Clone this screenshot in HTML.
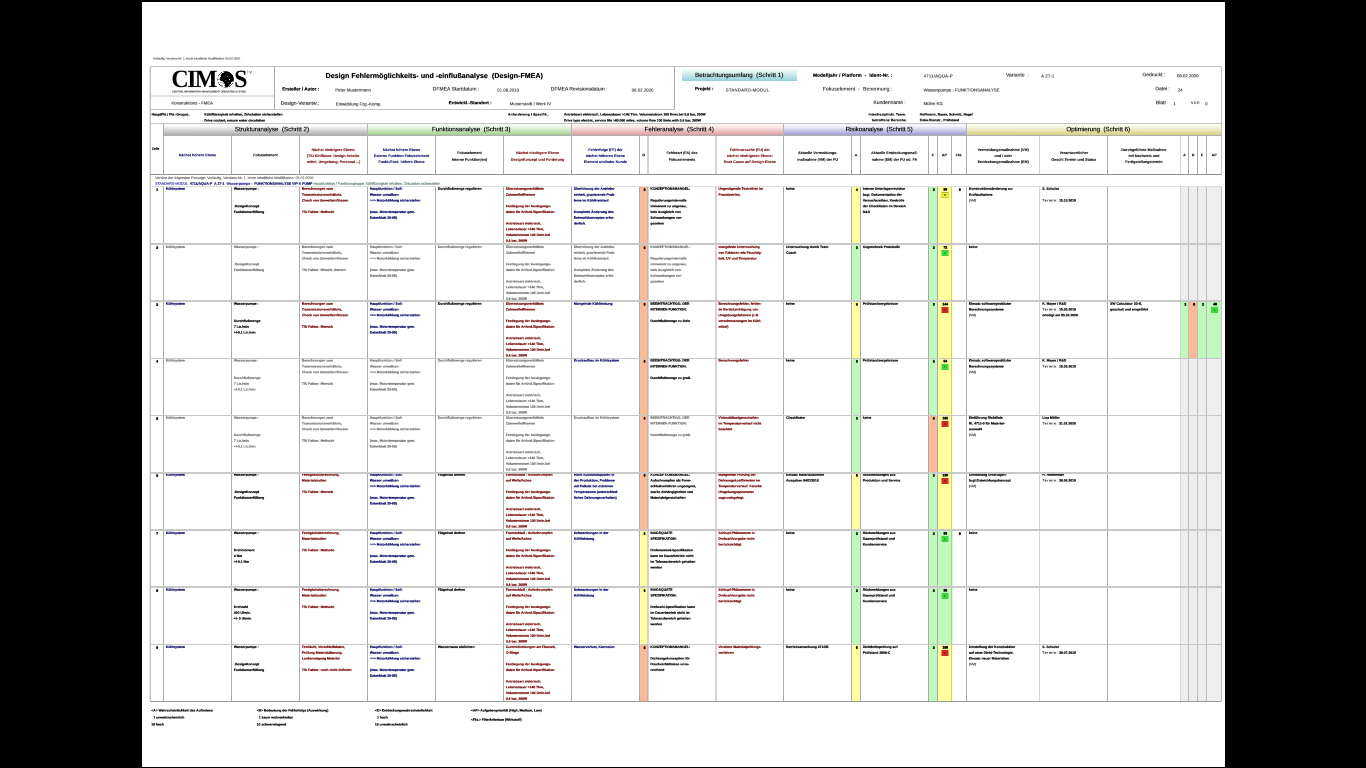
<!DOCTYPE html>
<html lang="de"><head><meta charset="utf-8"><title>Design-FMEA</title>
<style>
html,body{margin:0;padding:0;}
body{width:1366px;height:768px;background:#000;overflow:hidden;position:relative;font-family:"Liberation Sans",sans-serif;}
#page{position:absolute;left:142px;top:2px;width:1083px;height:765px;background:#fff;}
#c{position:absolute;left:0;top:0;width:5464px;height:3072px;transform:scale(0.25);transform-origin:0 0;will-change:transform;}
#c div{position:absolute;}
.t{white-space:nowrap;text-rendering:geometricPrecision;filter:blur(0.9px);text-shadow:0.3px 0 currentColor,-0.3px 0 currentColor;}
.b{font-weight:bold;text-shadow:0.35px 0 currentColor,-0.35px 0 currentColor,0 0.3px currentColor,0 -0.3px currentColor;}
.logo{font-family:"Liberation Serif",serif;font-weight:bold;color:#000;transform:scale(1,1.04);transform-origin:0 76.5%;text-shadow:none;}
</style></head>
<body>
<div id="page"></div>
<div id="c">
<div style="left:2557.20px;top:746.00px;width:34.80px;height:230.00px;background:#fbba98"></div>
<div style="left:3406.40px;top:746.00px;width:35.20px;height:230.00px;background:#ffffa0"></div>
<div style="left:3714.00px;top:746.00px;width:35.20px;height:230.00px;background:#bffabc"></div>
<div style="left:3749.20px;top:746.00px;width:56.40px;height:230.00px;background:#ffffa0"></div>
<div style="left:3805.60px;top:746.00px;width:10.40px;height:230.00px;background:linear-gradient(to right,#ffffa0,rgba(255,255,255,0))"></div>
<div style="left:4720.40px;top:746.00px;width:34.80px;height:230.00px;background:#eeeeee"></div>
<div style="left:4755.20px;top:746.00px;width:35.20px;height:230.00px;background:#eeeeee"></div>
<div style="left:4790.40px;top:746.00px;width:36.40px;height:230.00px;background:#eeeeee"></div>
<div style="left:4826.80px;top:746.00px;width:59.60px;height:230.00px;background:#eeeeee"></div>
<div style="left:2557.20px;top:976.00px;width:34.80px;height:228.00px;background:#fbba98"></div>
<div style="left:3406.40px;top:976.00px;width:35.20px;height:228.00px;background:#bffabc"></div>
<div style="left:3714.00px;top:976.00px;width:35.20px;height:228.00px;background:#bffabc"></div>
<div style="left:3749.20px;top:976.00px;width:56.40px;height:228.00px;background:#ffffa0"></div>
<div style="left:3805.60px;top:976.00px;width:10.40px;height:228.00px;background:linear-gradient(to right,#ffffa0,rgba(255,255,255,0))"></div>
<div style="left:4720.40px;top:976.00px;width:34.80px;height:228.00px;background:#eeeeee"></div>
<div style="left:4755.20px;top:976.00px;width:35.20px;height:228.00px;background:#eeeeee"></div>
<div style="left:4790.40px;top:976.00px;width:36.40px;height:228.00px;background:#eeeeee"></div>
<div style="left:4826.80px;top:976.00px;width:59.60px;height:228.00px;background:#eeeeee"></div>
<div style="left:2557.20px;top:1204.00px;width:34.80px;height:230.00px;background:#fbba98"></div>
<div style="left:3406.40px;top:1204.00px;width:35.20px;height:230.00px;background:#ffffa0"></div>
<div style="left:3714.00px;top:1204.00px;width:35.20px;height:230.00px;background:#bffabc"></div>
<div style="left:3749.20px;top:1204.00px;width:56.40px;height:230.00px;background:#ffffa0"></div>
<div style="left:3805.60px;top:1204.00px;width:10.40px;height:230.00px;background:linear-gradient(to right,#ffffa0,rgba(255,255,255,0))"></div>
<div style="left:4720.40px;top:1204.00px;width:34.80px;height:230.00px;background:#bffabc"></div>
<div style="left:4755.20px;top:1204.00px;width:35.20px;height:230.00px;background:#fbba98"></div>
<div style="left:4790.40px;top:1204.00px;width:36.40px;height:230.00px;background:#bffabc"></div>
<div style="left:4826.80px;top:1204.00px;width:59.60px;height:230.00px;background:#bffabc"></div>
<div style="left:2557.20px;top:1434.00px;width:34.80px;height:228.00px;background:#fbba98"></div>
<div style="left:3406.40px;top:1434.00px;width:35.20px;height:228.00px;background:#bffabc"></div>
<div style="left:3714.00px;top:1434.00px;width:35.20px;height:228.00px;background:#bffabc"></div>
<div style="left:3749.20px;top:1434.00px;width:56.40px;height:228.00px;background:#ffffa0"></div>
<div style="left:3805.60px;top:1434.00px;width:10.40px;height:228.00px;background:linear-gradient(to right,#ffffa0,rgba(255,255,255,0))"></div>
<div style="left:4720.40px;top:1434.00px;width:34.80px;height:228.00px;background:#eeeeee"></div>
<div style="left:4755.20px;top:1434.00px;width:35.20px;height:228.00px;background:#eeeeee"></div>
<div style="left:4790.40px;top:1434.00px;width:36.40px;height:228.00px;background:#eeeeee"></div>
<div style="left:4826.80px;top:1434.00px;width:59.60px;height:228.00px;background:#eeeeee"></div>
<div style="left:2557.20px;top:1662.00px;width:34.80px;height:230.00px;background:#fbba98"></div>
<div style="left:3406.40px;top:1662.00px;width:35.20px;height:230.00px;background:#bffabc"></div>
<div style="left:3714.00px;top:1662.00px;width:35.20px;height:230.00px;background:#fbba98"></div>
<div style="left:3749.20px;top:1662.00px;width:56.40px;height:230.00px;background:#ffffa0"></div>
<div style="left:3805.60px;top:1662.00px;width:10.40px;height:230.00px;background:linear-gradient(to right,#ffffa0,rgba(255,255,255,0))"></div>
<div style="left:4720.40px;top:1662.00px;width:34.80px;height:230.00px;background:#eeeeee"></div>
<div style="left:4755.20px;top:1662.00px;width:35.20px;height:230.00px;background:#eeeeee"></div>
<div style="left:4790.40px;top:1662.00px;width:36.40px;height:230.00px;background:#eeeeee"></div>
<div style="left:4826.80px;top:1662.00px;width:59.60px;height:230.00px;background:#eeeeee"></div>
<div style="left:2557.20px;top:1892.00px;width:34.80px;height:228.00px;background:#fbba98"></div>
<div style="left:3406.40px;top:1892.00px;width:35.20px;height:228.00px;background:#ffffa0"></div>
<div style="left:3714.00px;top:1892.00px;width:35.20px;height:228.00px;background:#bffabc"></div>
<div style="left:3749.20px;top:1892.00px;width:56.40px;height:228.00px;background:#ffffa0"></div>
<div style="left:3805.60px;top:1892.00px;width:10.40px;height:228.00px;background:linear-gradient(to right,#ffffa0,rgba(255,255,255,0))"></div>
<div style="left:4720.40px;top:1892.00px;width:34.80px;height:228.00px;background:#eeeeee"></div>
<div style="left:4755.20px;top:1892.00px;width:35.20px;height:228.00px;background:#eeeeee"></div>
<div style="left:4790.40px;top:1892.00px;width:36.40px;height:228.00px;background:#eeeeee"></div>
<div style="left:4826.80px;top:1892.00px;width:59.60px;height:228.00px;background:#eeeeee"></div>
<div style="left:2557.20px;top:2120.00px;width:34.80px;height:228.00px;background:#ffffa0"></div>
<div style="left:3406.40px;top:2120.00px;width:35.20px;height:228.00px;background:#bffabc"></div>
<div style="left:3714.00px;top:2120.00px;width:35.20px;height:228.00px;background:#bffabc"></div>
<div style="left:3749.20px;top:2120.00px;width:56.40px;height:228.00px;background:#bffabc"></div>
<div style="left:3805.60px;top:2120.00px;width:10.40px;height:228.00px;background:linear-gradient(to right,#bffabc,rgba(255,255,255,0))"></div>
<div style="left:4720.40px;top:2120.00px;width:34.80px;height:228.00px;background:#eeeeee"></div>
<div style="left:4755.20px;top:2120.00px;width:35.20px;height:228.00px;background:#eeeeee"></div>
<div style="left:4790.40px;top:2120.00px;width:36.40px;height:228.00px;background:#eeeeee"></div>
<div style="left:4826.80px;top:2120.00px;width:59.60px;height:228.00px;background:#eeeeee"></div>
<div style="left:2557.20px;top:2348.00px;width:34.80px;height:230.00px;background:#ffffa0"></div>
<div style="left:3406.40px;top:2348.00px;width:35.20px;height:230.00px;background:#bffabc"></div>
<div style="left:3714.00px;top:2348.00px;width:35.20px;height:230.00px;background:#bffabc"></div>
<div style="left:3749.20px;top:2348.00px;width:56.40px;height:230.00px;background:#bffabc"></div>
<div style="left:3805.60px;top:2348.00px;width:10.40px;height:230.00px;background:linear-gradient(to right,#bffabc,rgba(255,255,255,0))"></div>
<div style="left:4720.40px;top:2348.00px;width:34.80px;height:230.00px;background:#eeeeee"></div>
<div style="left:4755.20px;top:2348.00px;width:35.20px;height:230.00px;background:#eeeeee"></div>
<div style="left:4790.40px;top:2348.00px;width:36.40px;height:230.00px;background:#eeeeee"></div>
<div style="left:4826.80px;top:2348.00px;width:59.60px;height:230.00px;background:#eeeeee"></div>
<div style="left:2557.20px;top:2578.00px;width:34.80px;height:228.00px;background:#fbba98"></div>
<div style="left:3406.40px;top:2578.00px;width:35.20px;height:228.00px;background:#ffffa0"></div>
<div style="left:3714.00px;top:2578.00px;width:35.20px;height:228.00px;background:#bffabc"></div>
<div style="left:3749.20px;top:2578.00px;width:56.40px;height:228.00px;background:#ffffa0"></div>
<div style="left:3805.60px;top:2578.00px;width:10.40px;height:228.00px;background:linear-gradient(to right,#ffffa0,rgba(255,255,255,0))"></div>
<div style="left:4720.40px;top:2578.00px;width:34.80px;height:228.00px;background:#eeeeee"></div>
<div style="left:4755.20px;top:2578.00px;width:35.20px;height:228.00px;background:#eeeeee"></div>
<div style="left:4790.40px;top:2578.00px;width:36.40px;height:228.00px;background:#eeeeee"></div>
<div style="left:4826.80px;top:2578.00px;width:59.60px;height:228.00px;background:#eeeeee"></div>
<div style="left:654.00px;top:495.60px;width:816.00px;height:46.40px;background:linear-gradient(to bottom,#fbfbfb 0%,#fbfbfb 18%,#a9a9a9 100%)"></div>
<div class="t " style="top:502.15px;font-size:25.08px;line-height:30.10px;color:#000;left:680.00px;width:816.00px;text-align:center;letter-spacing:-0.003px;text-shadow:0.25px 0 currentColor,-0.25px 0 currentColor;">Strukturanalyse&nbsp; (Schritt 2)</div>
<div style="left:1470.00px;top:495.60px;width:816.00px;height:46.40px;background:linear-gradient(to bottom,#f6fbf3 0%,#f6fbf3 18%,#9ccc8c 100%)"></div>
<div class="t " style="top:502.15px;font-size:25.08px;line-height:30.10px;color:#000;left:1476.80px;width:816.00px;text-align:center;letter-spacing:-0.131px;text-shadow:0.25px 0 currentColor,-0.25px 0 currentColor;">Funktionsanalyse&nbsp; (Schritt 3)</div>
<div style="left:2286.00px;top:495.60px;width:848.80px;height:46.40px;background:linear-gradient(to bottom,#fcf1f1 0%,#fcf1f1 18%,#dd9a9a 100%)"></div>
<div class="t " style="top:502.15px;font-size:25.08px;line-height:30.10px;color:#000;left:2292.40px;width:848.80px;text-align:center;letter-spacing:-0.130px;text-shadow:0.25px 0 currentColor,-0.25px 0 currentColor;">Fehleranalyse&nbsp; (Schritt 4)</div>
<div style="left:3134.80px;top:495.60px;width:731.20px;height:46.40px;background:linear-gradient(to bottom,#f5f5fd 0%,#f5f5fd 18%,#9a9ad2 100%)"></div>
<div class="t " style="top:502.15px;font-size:25.08px;line-height:30.10px;color:#000;left:3150.80px;width:731.20px;text-align:center;letter-spacing:-0.360px;text-shadow:0.25px 0 currentColor,-0.25px 0 currentColor;">Risikoanalyse&nbsp; (Schritt 5)</div>
<div style="left:3866.00px;top:495.60px;width:1020.40px;height:46.40px;background:linear-gradient(to bottom,#fbfbee 0%,#fbfbee 18%,#d6ce7c 100%)"></div>
<div class="t " style="top:502.15px;font-size:25.08px;line-height:30.10px;color:#000;left:3882.60px;width:1020.40px;text-align:center;letter-spacing:-0.185px;text-shadow:0.25px 0 currentColor,-0.25px 0 currentColor;">Optimierung&nbsp; (Schritt 6)</div>
<div style="left:600.80px;top:263.20px;width:4285.60px;height:4.80px;background:#c4c4c4"></div>
<div style="left:598.20px;top:265.60px;width:5.20px;height:2540.40px;background:#c4c4c4"></div>
<div style="left:4884.00px;top:265.60px;width:4.80px;height:432.00px;background:#c4c4c4"></div>
<div style="left:4884.00px;top:746.00px;width:4.80px;height:2060.00px;background:#c4c4c4"></div>
<div style="left:1096.20px;top:265.60px;width:3.60px;height:171.60px;background:#a9a9a9"></div>
<div style="left:2697.40px;top:265.60px;width:3.60px;height:171.60px;background:#a9a9a9"></div>
<div style="left:600.80px;top:382.00px;width:497.20px;height:4.00px;background:#c4c4c4"></div>
<div style="left:600.80px;top:435.00px;width:2098.40px;height:4.40px;background:#c4c4c4"></div>
<div style="left:600.80px;top:491.80px;width:4285.60px;height:4.40px;background:#c4c4c4"></div>
<div style="left:654.00px;top:539.80px;width:4232.40px;height:2.80px;background:#b0b0b0"></div>
<div style="left:600.80px;top:695.80px;width:4285.60px;height:3.60px;background:#8e8e8e"></div>
<div style="left:652.20px;top:494.00px;width:3.60px;height:203.60px;background:#a9a9a9"></div>
<div style="left:924.20px;top:541.20px;width:3.60px;height:156.40px;background:#a9a9a9"></div>
<div style="left:1196.20px;top:541.20px;width:3.60px;height:156.40px;background:#a9a9a9"></div>
<div style="left:1468.20px;top:541.20px;width:3.60px;height:156.40px;background:#a9a9a9"></div>
<div style="left:1740.20px;top:541.20px;width:3.60px;height:156.40px;background:#a9a9a9"></div>
<div style="left:2012.20px;top:541.20px;width:3.60px;height:156.40px;background:#a9a9a9"></div>
<div style="left:2284.20px;top:541.20px;width:3.60px;height:156.40px;background:#a9a9a9"></div>
<div style="left:2555.40px;top:541.20px;width:3.60px;height:156.40px;background:#a9a9a9"></div>
<div style="left:2590.20px;top:541.20px;width:3.60px;height:156.40px;background:#a9a9a9"></div>
<div style="left:2862.20px;top:541.20px;width:3.60px;height:156.40px;background:#a9a9a9"></div>
<div style="left:3133.00px;top:541.20px;width:3.60px;height:156.40px;background:#a9a9a9"></div>
<div style="left:3404.60px;top:541.20px;width:3.60px;height:156.40px;background:#a9a9a9"></div>
<div style="left:3439.80px;top:541.20px;width:3.60px;height:156.40px;background:#a9a9a9"></div>
<div style="left:3712.20px;top:541.20px;width:3.60px;height:156.40px;background:#a9a9a9"></div>
<div style="left:3747.40px;top:541.20px;width:3.60px;height:156.40px;background:#a9a9a9"></div>
<div style="left:3803.80px;top:541.20px;width:3.60px;height:156.40px;background:#a9a9a9"></div>
<div style="left:3864.20px;top:541.20px;width:3.60px;height:156.40px;background:#a9a9a9"></div>
<div style="left:4157.80px;top:541.20px;width:3.60px;height:156.40px;background:#a9a9a9"></div>
<div style="left:4429.00px;top:541.20px;width:3.60px;height:156.40px;background:#a9a9a9"></div>
<div style="left:4718.60px;top:541.20px;width:3.60px;height:156.40px;background:#a9a9a9"></div>
<div style="left:4753.40px;top:541.20px;width:3.60px;height:156.40px;background:#a9a9a9"></div>
<div style="left:4788.60px;top:541.20px;width:3.60px;height:156.40px;background:#a9a9a9"></div>
<div style="left:4825.00px;top:541.20px;width:3.60px;height:156.40px;background:#a9a9a9"></div>
<div style="left:652.20px;top:746.00px;width:3.60px;height:2060.00px;background:#a9a9a9"></div>
<div style="left:924.20px;top:746.00px;width:3.60px;height:2060.00px;background:#a9a9a9"></div>
<div style="left:1196.20px;top:746.00px;width:3.60px;height:2060.00px;background:#a9a9a9"></div>
<div style="left:1468.20px;top:746.00px;width:3.60px;height:2060.00px;background:#a9a9a9"></div>
<div style="left:1740.20px;top:746.00px;width:3.60px;height:2060.00px;background:#a9a9a9"></div>
<div style="left:2012.20px;top:746.00px;width:3.60px;height:2060.00px;background:#a9a9a9"></div>
<div style="left:2284.20px;top:746.00px;width:3.60px;height:2060.00px;background:#a9a9a9"></div>
<div style="left:2555.40px;top:746.00px;width:3.60px;height:2060.00px;background:#a9a9a9"></div>
<div style="left:2590.20px;top:746.00px;width:3.60px;height:2060.00px;background:#a9a9a9"></div>
<div style="left:2862.20px;top:746.00px;width:3.60px;height:2060.00px;background:#a9a9a9"></div>
<div style="left:3133.00px;top:746.00px;width:3.60px;height:2060.00px;background:#a9a9a9"></div>
<div style="left:3404.60px;top:746.00px;width:3.60px;height:2060.00px;background:#a9a9a9"></div>
<div style="left:3439.80px;top:746.00px;width:3.60px;height:2060.00px;background:#a9a9a9"></div>
<div style="left:3712.20px;top:746.00px;width:3.60px;height:2060.00px;background:#a9a9a9"></div>
<div style="left:3747.40px;top:746.00px;width:3.60px;height:2060.00px;background:#a9a9a9"></div>
<div style="left:3803.80px;top:746.00px;width:3.60px;height:2060.00px;background:rgba(150,150,60,0.45)"></div>
<div style="left:3864.20px;top:746.00px;width:3.60px;height:2060.00px;background:#a9a9a9"></div>
<div style="left:4157.80px;top:746.00px;width:3.60px;height:2060.00px;background:#a9a9a9"></div>
<div style="left:4429.00px;top:746.00px;width:3.60px;height:2060.00px;background:#a9a9a9"></div>
<div style="left:4718.60px;top:746.00px;width:3.60px;height:2060.00px;background:#bdbdbd"></div>
<div style="left:4753.40px;top:746.00px;width:3.60px;height:2060.00px;background:#bdbdbd"></div>
<div style="left:4788.60px;top:746.00px;width:3.60px;height:2060.00px;background:#bdbdbd"></div>
<div style="left:4825.00px;top:746.00px;width:3.60px;height:2060.00px;background:#bdbdbd"></div>
<div style="left:1468.60px;top:494.00px;width:2.80px;height:47.20px;background:#b4b4b4"></div>
<div style="left:2284.60px;top:494.00px;width:2.80px;height:47.20px;background:#b4b4b4"></div>
<div style="left:3133.40px;top:494.00px;width:2.80px;height:47.20px;background:#b4b4b4"></div>
<div style="left:3864.60px;top:494.00px;width:2.80px;height:47.20px;background:#b4b4b4"></div>
<div style="left:600.80px;top:744.00px;width:4285.60px;height:4.00px;background:#dedede"></div>
<div style="left:600.80px;top:2803.80px;width:4285.60px;height:4.40px;background:#9a9a9a"></div>
<div class="t " style="top:227.32px;font-size:11.80px;line-height:14.16px;color:#585858;left:612.00px;letter-spacing:-0.002px;">Vorläufig, Versions-Nr. 1, letzte inhaltliche Modifikation: 05.02.2020</div>
<div class="t logo" style="left:685.60px;top:256.00px;font-size:95.60px;line-height:120.00px;letter-spacing:-6.20px">CIM</div>
<div class="t logo" style="left:936.80px;top:256.00px;font-size:95.60px;line-height:120.00px;">S</div>
<svg style="position:absolute;left:868.80px;top:283.60px" width="67.2" height="67.2" viewBox="0 0 100 100">
<circle cx="50" cy="50" r="47.5" fill="#fff" stroke="#222" stroke-width="2.4"/>
<path d="M50 3 Q14 50 50 97 M50 3 Q30 50 50 97 M8 30 H60 M3 50 H50 M8 70 H60 M22 12 Q50 22 78 12 M20 88 Q50 78 80 88" fill="none" stroke="#555" stroke-width="1.6"/>
<path d="M36 10 L52 4 L72 8 L86 18 L94 32 L97 50 L92 62 L84 66 L80 76 L72 82 L64 94 L54 98 L46 90 L43 72 L32 62 L20 58 L15 44 L22 32 L18 24 L28 16 Z" fill="#000"/>
<path d="M56 30 L62 33 L58 37 Z M70 46 L76 50 L71 54 Z M50 52 L54 56 L50 60 Z M64 64 l4 3 l-4 3 Z" fill="#fff"/>
</svg>
<div class="t " style="top:280.64px;font-size:15.60px;line-height:18.72px;color:#555;left:989.20px;letter-spacing:3.830px;">IV</div>
<div class="t  b" style="top:361.12px;font-size:10.80px;line-height:12.96px;color:#2a2a2a;left:688.00px;letter-spacing:-0.664px;text-shadow:none;">CENTRAL INFORMATION MANAGEMENT OPERATING SYSTEM</div>
<div class="t " style="top:403.00px;font-size:17.00px;line-height:20.40px;color:#4c4c4c;left:685.60px;letter-spacing:0.054px;text-shadow:0.4px 0 currentColor,-0.4px 0 currentColor,0 0.4px currentColor,0 -0.4px currentColor;">Konstruktions - FMEA</div>
<div class="t  b" style="top:285.60px;font-size:28.00px;line-height:33.60px;color:#000;left:1302.40px;letter-spacing:0.279px;">Design Fehlermöglichkeits- und -einflußanalyse&nbsp; (Design-FMEA)</div>
<div class="t  b" style="top:345.88px;font-size:18.20px;line-height:21.84px;color:#000;right:4187.20px;text-align:right;letter-spacing:0.054px;margin-right:-0.054px;">Ersteller / Autor :</div>
<div class="t " style="top:351.00px;font-size:17.00px;line-height:20.40px;color:#4c4c4c;left:1340.80px;letter-spacing:0.210px;text-shadow:0.4px 0 currentColor,-0.4px 0 currentColor,0 0.4px currentColor,0 -0.4px currentColor;">Peter Mustermann</div>
<div class="t " style="top:400.80px;font-size:20.00px;line-height:24.00px;color:#2c2c2c;right:4187.20px;text-align:right;letter-spacing:0.175px;margin-right:-0.175px;">Design-Verantw.:</div>
<div class="t " style="top:407.00px;font-size:17.00px;line-height:20.40px;color:#4c4c4c;left:1343.20px;letter-spacing:-0.040px;text-shadow:0.4px 0 currentColor,-0.4px 0 currentColor,0 0.4px currentColor,0 -0.4px currentColor;">Entwicklung Fzg.-Komp.</div>
<div class="t " style="top:344.00px;font-size:20.00px;line-height:24.00px;color:#2c2c2c;left:1730.80px;letter-spacing:0.189px;">DFMEA Startdatum :</div>
<div class="t " style="top:351.00px;font-size:17.00px;line-height:20.40px;color:#4c4c4c;left:1989.20px;letter-spacing:0.172px;text-shadow:0.4px 0 currentColor,-0.4px 0 currentColor,0 0.4px currentColor,0 -0.4px currentColor;">01.08.2019</div>
<div class="t " style="top:344.00px;font-size:20.00px;line-height:24.00px;color:#2c2c2c;left:2203.20px;letter-spacing:-0.048px;">DFMEA Revisionsdatum :</div>
<div class="t " style="top:351.00px;font-size:17.00px;line-height:20.40px;color:#4c4c4c;left:2526.80px;letter-spacing:0.212px;text-shadow:0.4px 0 currentColor,-0.4px 0 currentColor,0 0.4px currentColor,0 -0.4px currentColor;">06.02.2020</div>
<div class="t  b" style="top:400.68px;font-size:18.20px;line-height:21.84px;color:#000;left:1794.80px;letter-spacing:0.056px;">Entwickl.-Standort :</div>
<div class="t " style="top:406.20px;font-size:17.00px;line-height:20.40px;color:#4c4c4c;left:2039.20px;letter-spacing:0.118px;text-shadow:0.4px 0 currentColor,-0.4px 0 currentColor,0 0.4px currentColor,0 -0.4px currentColor;">Musterstadt / Werk IV</div>
<div style="left:2729.20px;top:276.80px;width:457.60px;height:47.60px;background:linear-gradient(to bottom,#f4fbfb 0%,#cdebed 45%,#8fd3d8 100%)"></div>
<div class="t " style="top:286.32px;font-size:24.80px;line-height:29.76px;color:#000;left:2696.80px;width:520.00px;text-align:center;letter-spacing:0.099px;">Betrachtungsumfang&nbsp; (Schritt 1)</div>
<div class="t  b" style="top:345.08px;font-size:18.20px;line-height:21.84px;color:#000;left:2780.00px;letter-spacing:0.131px;">Projekt :</div>
<div class="t " style="top:350.48px;font-size:17.20px;line-height:20.64px;color:#4c4c4c;left:2902.80px;letter-spacing:0.973px;text-shadow:0.4px 0 currentColor,-0.4px 0 currentColor,0 0.4px currentColor,0 -0.4px currentColor;">STANDARD-MODUL</div>
<div class="t  b" style="top:290.16px;font-size:18.40px;line-height:22.08px;color:#000;right:1894.40px;text-align:right;letter-spacing:0.637px;margin-right:-0.637px;">Modelljahr / Platform&nbsp; -&nbsp; Ident-Nr. :</div>
<div class="t " style="top:344.00px;font-size:20.00px;line-height:24.00px;color:#2c2c2c;right:1894.40px;text-align:right;letter-spacing:0.388px;margin-right:-0.388px;">Fokuselement&nbsp; -&nbsp; Benennung :</div>
<div class="t " style="top:398.00px;font-size:20.00px;line-height:24.00px;color:#2c2c2c;right:1841.20px;text-align:right;letter-spacing:-0.108px;margin-right:0.108px;">Kundenname :</div>
<div class="t " style="top:294.08px;font-size:17.20px;line-height:20.64px;color:#4c4c4c;left:3694.40px;letter-spacing:0.863px;text-shadow:0.4px 0 currentColor,-0.4px 0 currentColor,0 0.4px currentColor,0 -0.4px currentColor;">4711/AQUA-P</div>
<div class="t " style="top:350.48px;font-size:17.20px;line-height:20.64px;color:#4c4c4c;left:3694.40px;letter-spacing:0.079px;text-shadow:0.4px 0 currentColor,-0.4px 0 currentColor,0 0.4px currentColor,0 -0.4px currentColor;">Wasserpumpe : FUNKTIONSANALYSE</div>
<div class="t " style="top:403.68px;font-size:17.20px;line-height:20.64px;color:#4c4c4c;left:3694.40px;letter-spacing:0.038px;text-shadow:0.4px 0 currentColor,-0.4px 0 currentColor,0 0.4px currentColor,0 -0.4px currentColor;">Müller KG</div>
<div class="t " style="top:288.00px;font-size:20.00px;line-height:24.00px;color:#2c2c2c;left:4024.00px;letter-spacing:0.211px;">Variante&nbsp; :</div>
<div class="t " style="top:294.08px;font-size:17.20px;line-height:20.64px;color:#4c4c4c;left:4164.80px;letter-spacing:0.579px;text-shadow:0.4px 0 currentColor,-0.4px 0 currentColor,0 0.4px currentColor,0 -0.4px currentColor;">A 27-1</div>
<div class="t " style="top:287.20px;font-size:20.00px;line-height:24.00px;color:#2c2c2c;right:802.80px;text-align:right;letter-spacing:-0.066px;margin-right:0.066px;">Gedruckt :</div>
<div class="t " style="top:293.28px;font-size:17.20px;line-height:20.64px;color:#4c4c4c;left:4708.00px;letter-spacing:0.032px;text-shadow:0.4px 0 currentColor,-0.4px 0 currentColor,0 0.4px currentColor,0 -0.4px currentColor;">06.02.2020</div>
<div class="t " style="top:343.20px;font-size:20.00px;line-height:24.00px;color:#2c2c2c;right:784.00px;text-align:right;letter-spacing:0.142px;margin-right:-0.142px;">Datei :</div>
<div class="t " style="top:350.08px;font-size:17.20px;line-height:20.64px;color:#4c4c4c;left:4710.80px;text-shadow:0.4px 0 currentColor,-0.4px 0 currentColor,0 0.4px currentColor,0 -0.4px currentColor;">24</div>
<div class="t " style="top:399.20px;font-size:20.00px;line-height:24.00px;color:#2c2c2c;left:4624.00px;letter-spacing:-0.164px;">Blatt</div>
<div class="t " style="top:404.88px;font-size:17.20px;line-height:20.64px;color:#4c4c4c;left:4693.60px;text-shadow:0.4px 0 currentColor,-0.4px 0 currentColor,0 0.4px currentColor,0 -0.4px currentColor;">1</div>
<div class="t " style="top:399.12px;font-size:18.80px;line-height:22.56px;color:#444;left:4764.00px;letter-spacing:1.896px;">von</div>
<div class="t " style="top:404.88px;font-size:17.20px;line-height:20.64px;color:#4c4c4c;left:4820.80px;text-shadow:0.4px 0 currentColor,-0.4px 0 currentColor,0 0.4px currentColor,0 -0.4px currentColor;">0</div>
<div class="t  b" style="top:450.36px;font-size:13.40px;line-height:16.08px;color:#000;left:606.40px;letter-spacing:0.108px;">HauptFkt./ Fkt.-Gruppe..</div>
<div class="t  b" style="top:450.36px;font-size:13.40px;line-height:16.08px;color:#000;left:817.20px;letter-spacing:-0.006px;">Kühlflüssigkeit erhalten, Zirkulation sicherstellen</div>
<div class="t  b" style="top:473.96px;font-size:13.40px;line-height:16.08px;color:#000;left:817.20px;letter-spacing:-0.095px;">Drive coolant, ensure water circulation</div>
<div class="t  b" style="top:449.96px;font-size:13.40px;line-height:16.08px;color:#000;left:2032.00px;letter-spacing:0.567px;">Anforderung / Spezifik..</div>
<div class="t  b" style="top:449.96px;font-size:13.40px;line-height:16.08px;color:#000;left:2256.00px;">Antriebsart elektrisch, Lebensdauer >140 Tkm, Volumenstrom 100 l/min.bei 0,6 bar, 200W</div>
<div class="t  b" style="top:473.56px;font-size:13.40px;line-height:16.08px;color:#000;left:2256.00px;">Drive type electric, service life >80.000 miles, volume flow 100 l/min.with 0,6 bar, 200W</div>
<div class="t  b" style="top:449.96px;font-size:13.40px;line-height:16.08px;color:#000;right:1840.80px;text-align:right;letter-spacing:0.428px;margin-right:-0.428px;">Interdisziplinär. Team.</div>
<div class="t  b" style="top:473.16px;font-size:13.40px;line-height:16.08px;color:#000;right:1836.40px;text-align:right;letter-spacing:0.521px;margin-right:-0.521px;">betroffene Bereiche.</div>
<div class="t  b" style="top:449.96px;font-size:13.40px;line-height:16.08px;color:#000;left:3679.20px;letter-spacing:0.138px;">Hoffmann, Bauer, Schmitt, Nagel</div>
<div class="t  b" style="top:472.76px;font-size:13.40px;line-height:16.08px;color:#000;left:3679.20px;letter-spacing:0.104px;">Entw./Konstr., Prüfstand</div>
<div class="t  b" style="top:587.28px;font-size:13.20px;line-height:15.84px;color:#000;left:594.40px;width:56.00px;text-align:center;">Zeile</div>
<div class="t  b" style="top:613.24px;font-size:14.60px;line-height:17.52px;color:#000066;left:634.00px;width:312.00px;text-align:center;text-shadow:0.15px 0 currentColor;">Nächst höhere Ebene</div>
<div class="t  b" style="top:613.24px;font-size:14.60px;line-height:17.52px;color:#000;left:906.00px;width:312.00px;text-align:center;text-shadow:0.15px 0 currentColor;">Fokuselement</div>
<div class="t  b" style="top:592.04px;font-size:14.60px;line-height:17.52px;color:#720000;left:1178.00px;width:312.00px;text-align:center;text-shadow:0.15px 0 currentColor;">Nächst niedrigere Ebene:</div>
<div class="t  b" style="top:616.04px;font-size:14.60px;line-height:17.52px;color:#720000;left:1178.00px;width:312.00px;text-align:center;text-shadow:0.15px 0 currentColor;">(T/U Einflüsse: Design Arbeits-</div>
<div class="t  b" style="top:640.04px;font-size:14.60px;line-height:17.52px;color:#720000;left:1178.00px;width:312.00px;text-align:center;text-shadow:0.15px 0 currentColor;">mittel, Umgebung, Personal ...)</div>
<div class="t  b" style="top:592.04px;font-size:14.60px;line-height:17.52px;color:#000066;left:1450.00px;width:312.00px;text-align:center;text-shadow:0.15px 0 currentColor;">Nächst höhere Ebene</div>
<div class="t  b" style="top:616.04px;font-size:14.60px;line-height:17.52px;color:#000066;left:1450.00px;width:312.00px;text-align:center;text-shadow:0.15px 0 currentColor;">Externe Funktion Fokuselement</div>
<div class="t  b" style="top:640.04px;font-size:14.60px;line-height:17.52px;color:#000066;left:1450.00px;width:312.00px;text-align:center;text-shadow:0.15px 0 currentColor;">Funkt./Ford. höhere Ebene</div>
<div class="t  b" style="top:603.64px;font-size:14.60px;line-height:17.52px;color:#000;left:1722.00px;width:312.00px;text-align:center;text-shadow:0.15px 0 currentColor;">Fokuselement</div>
<div class="t  b" style="top:630.84px;font-size:14.60px;line-height:17.52px;color:#000;left:1722.00px;width:312.00px;text-align:center;text-shadow:0.15px 0 currentColor;">Interne Funktion(en)</div>
<div class="t  b" style="top:603.64px;font-size:14.60px;line-height:17.52px;color:#720000;left:1994.00px;width:312.00px;text-align:center;text-shadow:0.15px 0 currentColor;">Nächst niedrigere Ebene</div>
<div class="t  b" style="top:630.84px;font-size:14.60px;line-height:17.52px;color:#720000;left:1994.00px;width:312.00px;text-align:center;text-shadow:0.15px 0 currentColor;">DesignKonzept und Forderung</div>
<div class="t  b" style="top:592.04px;font-size:14.60px;line-height:17.52px;color:#000066;left:2266.00px;width:311.20px;text-align:center;text-shadow:0.15px 0 currentColor;">Fehlerfolge (FF) der</div>
<div class="t  b" style="top:616.04px;font-size:14.60px;line-height:17.52px;color:#000066;left:2266.00px;width:311.20px;text-align:center;text-shadow:0.15px 0 currentColor;">nächst höheren Ebene</div>
<div class="t  b" style="top:640.04px;font-size:14.60px;line-height:17.52px;color:#000066;left:2266.00px;width:311.20px;text-align:center;text-shadow:0.15px 0 currentColor;">Element und/oder Kunde</div>
<div class="t  b" style="top:613.24px;font-size:14.60px;line-height:17.52px;color:#000;left:2537.20px;width:74.80px;text-align:center;text-shadow:0.15px 0 currentColor;">B</div>
<div class="t  b" style="top:603.64px;font-size:14.60px;line-height:17.52px;color:#000;left:2572.00px;width:312.00px;text-align:center;text-shadow:0.15px 0 currentColor;">Fehlerart (FA) des</div>
<div class="t  b" style="top:630.84px;font-size:14.60px;line-height:17.52px;color:#000;left:2572.00px;width:312.00px;text-align:center;text-shadow:0.15px 0 currentColor;">Fokuselements</div>
<div class="t  b" style="top:592.04px;font-size:14.60px;line-height:17.52px;color:#720000;left:2844.00px;width:310.80px;text-align:center;text-shadow:0.15px 0 currentColor;">Fehlerursache (FU) der</div>
<div class="t  b" style="top:616.04px;font-size:14.60px;line-height:17.52px;color:#720000;left:2844.00px;width:310.80px;text-align:center;text-shadow:0.15px 0 currentColor;">nächst niedrigeren Ebene:</div>
<div class="t  b" style="top:640.04px;font-size:14.60px;line-height:17.52px;color:#720000;left:2844.00px;width:310.80px;text-align:center;text-shadow:0.15px 0 currentColor;">Root Cause auf Design-Ebene</div>
<div class="t  b" style="top:603.64px;font-size:14.60px;line-height:17.52px;color:#000;left:3114.80px;width:311.60px;text-align:center;text-shadow:0.15px 0 currentColor;">Aktuelle Vermeidungs-</div>
<div class="t  b" style="top:630.84px;font-size:14.60px;line-height:17.52px;color:#000;left:3114.80px;width:311.60px;text-align:center;text-shadow:0.15px 0 currentColor;">maßnahme (VM) der FU</div>
<div class="t  b" style="top:613.24px;font-size:14.60px;line-height:17.52px;color:#000;left:3386.40px;width:75.20px;text-align:center;text-shadow:0.15px 0 currentColor;">A</div>
<div class="t  b" style="top:603.64px;font-size:14.60px;line-height:17.52px;color:#000;left:3421.60px;width:312.40px;text-align:center;text-shadow:0.15px 0 currentColor;">Aktuelle Entdeckungsmaß-</div>
<div class="t  b" style="top:630.84px;font-size:14.60px;line-height:17.52px;color:#000;left:3421.60px;width:312.40px;text-align:center;text-shadow:0.15px 0 currentColor;">nahme (EM) der FU od. FA</div>
<div class="t  b" style="top:613.24px;font-size:14.60px;line-height:17.52px;color:#000;left:3694.00px;width:75.20px;text-align:center;text-shadow:0.15px 0 currentColor;">E</div>
<div class="t  b" style="top:613.24px;font-size:14.60px;line-height:17.52px;color:#000;left:3729.20px;width:96.40px;text-align:center;text-shadow:0.15px 0 currentColor;">AP</div>
<div class="t  b" style="top:613.24px;font-size:14.60px;line-height:17.52px;color:#000;left:3785.60px;width:100.40px;text-align:center;text-shadow:0.15px 0 currentColor;">Fkt.</div>
<div class="t  b" style="top:592.04px;font-size:14.60px;line-height:17.52px;color:#000;left:3846.00px;width:333.60px;text-align:center;text-shadow:0.15px 0 currentColor;">Vermeidungsmaßnahme (VM)</div>
<div class="t  b" style="top:616.04px;font-size:14.60px;line-height:17.52px;color:#000;left:3846.00px;width:333.60px;text-align:center;text-shadow:0.15px 0 currentColor;">und / oder</div>
<div class="t  b" style="top:640.04px;font-size:14.60px;line-height:17.52px;color:#000;left:3846.00px;width:333.60px;text-align:center;text-shadow:0.15px 0 currentColor;">Entdeckungsmaßnahme (EM)</div>
<div class="t  b" style="top:603.64px;font-size:14.60px;line-height:17.52px;color:#000;left:4139.60px;width:311.20px;text-align:center;text-shadow:0.15px 0 currentColor;">Verantwortlicher</div>
<div class="t  b" style="top:630.84px;font-size:14.60px;line-height:17.52px;color:#000;left:4139.60px;width:311.20px;text-align:center;text-shadow:0.15px 0 currentColor;">Geschl.Termin und Status</div>
<div class="t  b" style="top:592.04px;font-size:14.60px;line-height:17.52px;color:#000;left:4410.80px;width:329.60px;text-align:center;text-shadow:0.15px 0 currentColor;">Durchgeführte Maßnahme</div>
<div class="t  b" style="top:616.04px;font-size:14.60px;line-height:17.52px;color:#000;left:4410.80px;width:329.60px;text-align:center;text-shadow:0.15px 0 currentColor;">mit Nachweis und</div>
<div class="t  b" style="top:640.04px;font-size:14.60px;line-height:17.52px;color:#000;left:4410.80px;width:329.60px;text-align:center;text-shadow:0.15px 0 currentColor;">Fertigstellungstermin</div>
<div class="t  b" style="top:613.24px;font-size:14.60px;line-height:17.52px;color:#000;left:4700.40px;width:74.80px;text-align:center;text-shadow:0.15px 0 currentColor;">A</div>
<div class="t  b" style="top:613.24px;font-size:14.60px;line-height:17.52px;color:#000;left:4735.20px;width:75.20px;text-align:center;text-shadow:0.15px 0 currentColor;">B</div>
<div class="t  b" style="top:613.24px;font-size:14.60px;line-height:17.52px;color:#000;left:4770.40px;width:76.40px;text-align:center;text-shadow:0.15px 0 currentColor;">E</div>
<div class="t  b" style="top:613.24px;font-size:14.60px;line-height:17.52px;color:#000;left:4806.80px;width:99.60px;text-align:center;text-shadow:0.15px 0 currentColor;">AP</div>
<div class="t " style="top:703.88px;font-size:14.20px;line-height:17.04px;color:#5c5c5c;left:620.80px;letter-spacing:0.083px;">Version der folgenden Passage: Vorläufig, Versions-Nr. 1, letzte inhaltliche Modifikation: 05.02.2020</div>
<div class="t" style="left:620.80px;top:725.60px;font-size:14.00px;line-height:17.60px;color:#000066"><span style="color:#2c2ca8">STANDARD-MODUL</span>&nbsp; <b>4711/AQUA-P&nbsp; A 27-1</b>&nbsp; <b style="color:#2a2aa0">Wasserpumpe :</b>&nbsp; <b>FUNKTIONSANALYSE VIP K PUMP</b><span style="color:#587868"> Hauptfunktion / Funktionsgruppe: Kühlflüssigkeit erhalten, Zirkulation sicherstellen</span></div>
<div class="t  b" style="top:751.16px;font-size:13.40px;line-height:16.08px;color:#000;left:602.00px;width:53.20px;text-align:center;text-shadow:0.9px 0 currentColor,-0.9px 0 currentColor,0 0.9px currentColor,0 -0.9px currentColor;">1</div>
<div class="t b" style="left:663.60px;top:743.49px;font-size:13.40px;line-height:23.02px;color:#000066;">Kühlsystem</div>
<div class="t b" style="left:935.60px;top:743.49px;font-size:13.40px;line-height:23.02px;color:#000;">Wasserpumpe :<br><br><br>.DesignKonzept<br>Funktionserfüllung</div>
<div class="t b" style="left:1207.60px;top:743.49px;font-size:13.40px;line-height:23.02px;color:#720000;">Berechnungen zum<br>Transmissionsverhältnis,<br>Check von Umwelteinflüssen<br><br>T/U Faktor: Methode</div>
<div class="t b" style="left:1479.60px;top:743.49px;font-size:13.40px;line-height:23.02px;color:#000066;">Hauptfunktion / Soll:<br>Wasser umwälzen<br>==&gt; Motorkühlung sicherstellen<br><br>(max. Motortemperatur gem.<br>Datenblatt 20-05)</div>
<div class="t b" style="left:1751.60px;top:743.49px;font-size:13.40px;line-height:23.02px;color:#000;">Durchflußmenge regulieren</div>
<div class="t b" style="left:2023.60px;top:743.49px;font-size:13.40px;line-height:23.02px;color:#720000;">Übersetzungsverhältnis<br>Zahnwelle/Riemen<br><br>Festlegung der Auslegungs-<br>daten für Anford./Spezifikation<br><br>Antriebsart elektrisch,<br>Lebensdauer &gt;140 Tkm,<br>Volumenstrom 100 l/min.bei<br>0,6 bar, 200W</div>
<div class="t b" style="left:2295.60px;top:743.49px;font-size:13.40px;line-height:23.02px;color:#000066;">Überhitzung der Antriebs-<br>einheit, gravierende Prob-<br>leme im Kühlkreislauf.<br><br>Komplette Änderung des<br>Entwurfskonzeptes erfor-<br>derlich.</div>
<div class="t  b" style="top:750.76px;font-size:13.40px;line-height:16.08px;color:#000;left:2560.80px;width:34.80px;text-align:center;text-shadow:0.9px 0 currentColor,-0.9px 0 currentColor,0 0.9px currentColor,0 -0.9px currentColor;">8</div>
<div class="t b" style="left:2601.60px;top:743.49px;font-size:13.40px;line-height:23.02px;color:#000;">KONZEPTIONSMANGEL:<br><br>Regulierungsintervalle<br>immanent zu ungenau,<br>kein Ausgleich von<br>Schwankungen vor-<br>gesehen</div>
<div class="t b" style="left:2873.60px;top:743.49px;font-size:13.40px;line-height:23.02px;color:#720000;">Ungenügende Testreihen im<br>Praxisbetrieb,</div>
<div class="t b" style="left:3144.40px;top:743.49px;font-size:13.40px;line-height:23.02px;color:#000;">keine</div>
<div class="t  b" style="top:750.76px;font-size:13.40px;line-height:16.08px;color:#000;left:3410.00px;width:35.20px;text-align:center;text-shadow:0.9px 0 currentColor,-0.9px 0 currentColor,0 0.9px currentColor,0 -0.9px currentColor;">4</div>
<div class="t b" style="left:3451.20px;top:743.49px;font-size:13.40px;line-height:23.02px;color:#000;">Interne Unterlagenrevision<br>bzgl. Dokumentation der<br>Versuchsreihen, Kontrolle<br>der Checklisten im Bereich<br>R&amp;D</div>
<div class="t  b" style="top:750.76px;font-size:13.40px;line-height:16.08px;color:#000;left:3717.60px;width:35.20px;text-align:center;text-shadow:0.9px 0 currentColor,-0.9px 0 currentColor,0 0.9px currentColor,0 -0.9px currentColor;">3</div>
<div class="t  b" style="top:749.96px;font-size:13.40px;line-height:16.08px;color:#000;left:3752.80px;width:56.40px;text-align:center;text-shadow:0.9px 0 currentColor,-0.9px 0 currentColor,0 0.9px currentColor,0 -0.9px currentColor;">96</div>
<div style="left:3765.80px;top:768.40px;width:28.00px;height:24.80px;background:#f4f040;box-shadow:inset 0 0 0 3.20px #b8b820;"></div>
<div class="t  b" style="top:775.36px;font-size:10.40px;line-height:12.48px;color:#707000;left:3767.80px;width:24.00px;text-align:center;">M</div>
<div class="t  b" style="top:750.76px;font-size:13.40px;line-height:16.08px;color:#000;left:3809.20px;width:60.40px;text-align:center;text-shadow:0.9px 0 currentColor,-0.9px 0 currentColor,0 0.9px currentColor,0 -0.9px currentColor;">8</div>
<div class="t b" style="left:3875.60px;top:743.49px;font-size:13.40px;line-height:23.02px;color:#000;">Konstruktionsänderung zur<br>Kraftaufnahme<br><span style="font-weight:normal;color:#3c3c3c">(VM)</span></div>
<div class="t b" style="left:4169.20px;top:743.49px;font-size:13.40px;line-height:23.02px;color:#000;">S. Schulze<br><br><span style="font-weight:normal;letter-spacing:2.80px;color:#222">Termin:</span> 15.10.2019</div>
<div class="t b" style="left:4440.40px;top:743.49px;font-size:13.40px;line-height:23.02px;color:#000;"></div>
<div class="t  b" style="top:983.36px;font-size:13.40px;line-height:16.08px;color:#000;left:602.00px;width:53.20px;text-align:center;text-shadow:0.9px 0 currentColor,-0.9px 0 currentColor,0 0.9px currentColor,0 -0.9px currentColor;">2</div>
<div class="t b" style="left:663.60px;top:975.69px;font-size:13.40px;line-height:23.02px;color:#666666;text-shadow:0.2px 0 currentColor,-0.2px 0 currentColor;">Kühlsystem</div>
<div class="t b" style="left:935.60px;top:975.69px;font-size:13.40px;line-height:23.02px;color:#666666;text-shadow:0.2px 0 currentColor,-0.2px 0 currentColor;">Wasserpumpe :<br><br><br>.DesignKonzept<br>Funktionserfüllung</div>
<div class="t b" style="left:1207.60px;top:975.69px;font-size:13.40px;line-height:23.02px;color:#666666;text-shadow:0.2px 0 currentColor,-0.2px 0 currentColor;">Berechnungen zum<br>Transmissionsverhältnis,<br>Check von Umwelteinflüssen<br><br>T/U Faktor: Mitwelt, Umwelt</div>
<div class="t b" style="left:1479.60px;top:975.69px;font-size:13.40px;line-height:23.02px;color:#666666;text-shadow:0.2px 0 currentColor,-0.2px 0 currentColor;">Hauptfunktion / Soll:<br>Wasser umwälzen<br>==&gt; Motorkühlung sicherstellen<br><br>(max. Motortemperatur gem.<br>Datenblatt 20-05)</div>
<div class="t b" style="left:1751.60px;top:975.69px;font-size:13.40px;line-height:23.02px;color:#666666;text-shadow:0.2px 0 currentColor,-0.2px 0 currentColor;">Durchflußmenge regulieren</div>
<div class="t b" style="left:2023.60px;top:975.69px;font-size:13.40px;line-height:23.02px;color:#666666;text-shadow:0.2px 0 currentColor,-0.2px 0 currentColor;">Übersetzungsverhältnis<br>Zahnwelle/Riemen<br><br>Festlegung der Auslegungs-<br>daten für Anford./Spezifikation<br><br>Antriebsart elektrisch,<br>Lebensdauer &gt;140 Tkm,<br>Volumenstrom 100 l/min.bei<br>0,6 bar, 200W</div>
<div class="t b" style="left:2295.60px;top:975.69px;font-size:13.40px;line-height:23.02px;color:#666666;text-shadow:0.2px 0 currentColor,-0.2px 0 currentColor;">Überhitzung der Antriebs-<br>einheit, gravierende Prob-<br>leme im Kühlkreislauf.<br><br>Komplette Änderung des<br>Entwurfskonzeptes erfor-<br>derlich.</div>
<div class="t  b" style="top:982.96px;font-size:13.40px;line-height:16.08px;color:#000;left:2560.80px;width:34.80px;text-align:center;text-shadow:0.9px 0 currentColor,-0.9px 0 currentColor,0 0.9px currentColor,0 -0.9px currentColor;">8</div>
<div class="t b" style="left:2601.60px;top:975.69px;font-size:13.40px;line-height:23.02px;color:#666666;text-shadow:0.2px 0 currentColor,-0.2px 0 currentColor;">KONZEPTIONSMANGEL:<br><br>Regulierungsintervalle<br>immanent zu ungenau,<br>kein Ausgleich von<br>Schwankungen vor-<br>gesehen</div>
<div class="t b" style="left:2873.60px;top:975.69px;font-size:13.40px;line-height:23.02px;color:#720000;">mangelnde Untersuchung<br>von Faktoren wie Feuchtig-<br>keit, UV und Temperatur</div>
<div class="t b" style="left:3144.40px;top:975.69px;font-size:13.40px;line-height:23.02px;color:#000;">Untersuchung durch Team<br>Coach</div>
<div class="t  b" style="top:982.96px;font-size:13.40px;line-height:16.08px;color:#000;left:3410.00px;width:35.20px;text-align:center;text-shadow:0.9px 0 currentColor,-0.9px 0 currentColor,0 0.9px currentColor,0 -0.9px currentColor;">3</div>
<div class="t b" style="left:3451.20px;top:975.69px;font-size:13.40px;line-height:23.02px;color:#000;">Gegencheck Protokolle</div>
<div class="t  b" style="top:982.96px;font-size:13.40px;line-height:16.08px;color:#000;left:3717.60px;width:35.20px;text-align:center;text-shadow:0.9px 0 currentColor,-0.9px 0 currentColor,0 0.9px currentColor,0 -0.9px currentColor;">3</div>
<div class="t  b" style="top:982.16px;font-size:13.40px;line-height:16.08px;color:#000;left:3752.80px;width:56.40px;text-align:center;text-shadow:0.9px 0 currentColor,-0.9px 0 currentColor,0 0.9px currentColor,0 -0.9px currentColor;">72</div>
<div style="left:3765.80px;top:1000.60px;width:28.00px;height:24.80px;background:#3fd63f;"></div>
<div class="t  b" style="top:1007.56px;font-size:10.40px;line-height:12.48px;color:#108010;left:3767.80px;width:24.00px;text-align:center;">L</div>
<div class="t b" style="left:3875.60px;top:975.69px;font-size:13.40px;line-height:23.02px;color:#000;">keine</div>
<div class="t b" style="left:4169.20px;top:975.69px;font-size:13.40px;line-height:23.02px;color:#000;"></div>
<div class="t b" style="left:4440.40px;top:975.69px;font-size:13.40px;line-height:23.02px;color:#000;"></div>
<div class="t  b" style="top:1210.56px;font-size:13.40px;line-height:16.08px;color:#000;left:602.00px;width:53.20px;text-align:center;text-shadow:0.9px 0 currentColor,-0.9px 0 currentColor,0 0.9px currentColor,0 -0.9px currentColor;">3</div>
<div class="t b" style="left:663.60px;top:1202.89px;font-size:13.40px;line-height:23.02px;color:#000066;">Kühlsystem</div>
<div class="t b" style="left:935.60px;top:1202.89px;font-size:13.40px;line-height:23.02px;color:#000;">Wasserpumpe :<br><br><br>Durchflußmenge<br>7 Ltr./min<br>+/-0,1 Ltr./min</div>
<div class="t b" style="left:1207.60px;top:1202.89px;font-size:13.40px;line-height:23.02px;color:#720000;">Berechnungen zum<br>Transmissionsverhältnis,<br>Check von Umwelteinflüssen<br><br>T/U Faktor: Mensch</div>
<div class="t b" style="left:1479.60px;top:1202.89px;font-size:13.40px;line-height:23.02px;color:#000066;">Hauptfunktion / Soll:<br>Wasser umwälzen<br>==&gt; Motorkühlung sicherstellen<br><br>(max. Motortemperatur gem.<br>Datenblatt 20-05)</div>
<div class="t b" style="left:1751.60px;top:1202.89px;font-size:13.40px;line-height:23.02px;color:#000;">Durchflußmenge regulieren</div>
<div class="t b" style="left:2023.60px;top:1202.89px;font-size:13.40px;line-height:23.02px;color:#720000;">Übersetzungsverhältnis<br>Zahnwelle/Riemen<br><br>Festlegung der Auslegungs-<br>daten für Anford./Spezifikation<br><br>Antriebsart elektrisch,<br>Lebensdauer &gt;140 Tkm,<br>Volumenstrom 100 l/min.bei<br>0,6 bar, 200W</div>
<div class="t b" style="left:2295.60px;top:1202.89px;font-size:13.40px;line-height:23.02px;color:#000066;">Mangelnde Kühlleistung</div>
<div class="t  b" style="top:1210.16px;font-size:13.40px;line-height:16.08px;color:#000;left:2560.80px;width:34.80px;text-align:center;text-shadow:0.9px 0 currentColor,-0.9px 0 currentColor,0 0.9px currentColor,0 -0.9px currentColor;">8</div>
<div class="t b" style="left:2601.60px;top:1202.89px;font-size:13.40px;line-height:23.02px;color:#000;">BEEINTRÄCHTIGG. DER<br>INTERNEN FUNKTION:<br><br>Durchflußmenge zu klein</div>
<div class="t b" style="left:2873.60px;top:1202.89px;font-size:13.40px;line-height:23.02px;color:#720000;">Berechnungsfehler, fehlen-<br>de Berücksichtigung von<br>Umgebungsfaktoren (z.B.<br>verschmutzungen im Kühl-<br>mittel)</div>
<div class="t b" style="left:3144.40px;top:1202.89px;font-size:13.40px;line-height:23.02px;color:#000;">keine</div>
<div class="t  b" style="top:1210.16px;font-size:13.40px;line-height:16.08px;color:#000;left:3410.00px;width:35.20px;text-align:center;text-shadow:0.9px 0 currentColor,-0.9px 0 currentColor,0 0.9px currentColor,0 -0.9px currentColor;">6</div>
<div class="t b" style="left:3451.20px;top:1202.89px;font-size:13.40px;line-height:23.02px;color:#000;">Prüfstandsergebnisse</div>
<div class="t  b" style="top:1210.16px;font-size:13.40px;line-height:16.08px;color:#000;left:3717.60px;width:35.20px;text-align:center;text-shadow:0.9px 0 currentColor,-0.9px 0 currentColor,0 0.9px currentColor,0 -0.9px currentColor;">3</div>
<div class="t  b" style="top:1209.36px;font-size:13.40px;line-height:16.08px;color:#000;left:3752.80px;width:56.40px;text-align:center;text-shadow:0.9px 0 currentColor,-0.9px 0 currentColor,0 0.9px currentColor,0 -0.9px currentColor;">144</div>
<div style="left:3765.80px;top:1227.80px;width:28.00px;height:24.80px;background:#d42a20;"></div>
<div class="t  b" style="top:1234.76px;font-size:10.40px;line-height:12.48px;color:#a01010;left:3767.80px;width:24.00px;text-align:center;">H</div>
<div class="t b" style="left:3875.60px;top:1202.89px;font-size:13.40px;line-height:23.02px;color:#000;">Einsatz softwaregestützter<br>Berechnungssysteme<br><span style="font-weight:normal;color:#3c3c3c">(VM)</span></div>
<div class="t b" style="left:4169.20px;top:1202.89px;font-size:13.40px;line-height:23.02px;color:#000;">K. Mayer / R&amp;D<br><span style="font-weight:normal;letter-spacing:2.80px;color:#222">Termin:</span> 15.05.2019<br>erledigt am 05.02.2020</div>
<div class="t b" style="left:4440.40px;top:1202.89px;font-size:13.40px;line-height:23.02px;color:#000;">SW Calculator 3D-IL<br>geschult und eingeführt</div>
<div class="t  b" style="top:1210.16px;font-size:13.40px;line-height:16.08px;color:#000;left:4724.00px;width:34.80px;text-align:center;text-shadow:0.9px 0 currentColor,-0.9px 0 currentColor,0 0.9px currentColor,0 -0.9px currentColor;">3</div>
<div class="t  b" style="top:1210.16px;font-size:13.40px;line-height:16.08px;color:#000;left:4758.80px;width:35.20px;text-align:center;text-shadow:0.9px 0 currentColor,-0.9px 0 currentColor,0 0.9px currentColor,0 -0.9px currentColor;">8</div>
<div class="t  b" style="top:1210.16px;font-size:13.40px;line-height:16.08px;color:#000;left:4794.00px;width:36.40px;text-align:center;text-shadow:0.9px 0 currentColor,-0.9px 0 currentColor,0 0.9px currentColor,0 -0.9px currentColor;">2</div>
<div class="t  b" style="top:1209.36px;font-size:13.40px;line-height:16.08px;color:#000;left:4830.40px;width:59.60px;text-align:center;text-shadow:0.9px 0 currentColor,-0.9px 0 currentColor,0 0.9px currentColor,0 -0.9px currentColor;">48</div>
<div style="left:4845.00px;top:1227.80px;width:28.00px;height:24.80px;background:#3fd63f;"></div>
<div class="t  b" style="top:1234.76px;font-size:10.40px;line-height:12.48px;color:#108010;left:4847.00px;width:24.00px;text-align:center;">L</div>
<div class="t  b" style="top:1438.16px;font-size:13.40px;line-height:16.08px;color:#000;left:602.00px;width:53.20px;text-align:center;text-shadow:0.9px 0 currentColor,-0.9px 0 currentColor,0 0.9px currentColor,0 -0.9px currentColor;">4</div>
<div class="t b" style="left:663.60px;top:1430.49px;font-size:13.40px;line-height:23.02px;color:#666666;text-shadow:0.2px 0 currentColor,-0.2px 0 currentColor;">Kühlsystem</div>
<div class="t b" style="left:935.60px;top:1430.49px;font-size:13.40px;line-height:23.02px;color:#666666;text-shadow:0.2px 0 currentColor,-0.2px 0 currentColor;">Wasserpumpe :<br><br><br>Durchflußmenge<br>7 Ltr./min<br>+/-0,1 Ltr./min</div>
<div class="t b" style="left:1207.60px;top:1430.49px;font-size:13.40px;line-height:23.02px;color:#666666;text-shadow:0.2px 0 currentColor,-0.2px 0 currentColor;">Berechnungen zum<br>Transmissionsverhältnis,<br>Check von Umwelteinflüssen<br><br>T/U Faktor: Mensch</div>
<div class="t b" style="left:1479.60px;top:1430.49px;font-size:13.40px;line-height:23.02px;color:#666666;text-shadow:0.2px 0 currentColor,-0.2px 0 currentColor;">Hauptfunktion / Soll:<br>Wasser umwälzen<br>==&gt; Motorkühlung sicherstellen<br><br>(max. Motortemperatur gem.<br>Datenblatt 20-05)</div>
<div class="t b" style="left:1751.60px;top:1430.49px;font-size:13.40px;line-height:23.02px;color:#666666;text-shadow:0.2px 0 currentColor,-0.2px 0 currentColor;">Durchflußmenge regulieren</div>
<div class="t b" style="left:2023.60px;top:1430.49px;font-size:13.40px;line-height:23.02px;color:#666666;text-shadow:0.2px 0 currentColor,-0.2px 0 currentColor;">Übersetzungsverhältnis<br>Zahnwelle/Riemen<br><br>Festlegung der Auslegungs-<br>daten für Anford./Spezifikation<br><br>Antriebsart elektrisch,<br>Lebensdauer &gt;140 Tkm,<br>Volumenstrom 100 l/min.bei<br>0,6 bar, 200W</div>
<div class="t b" style="left:2295.60px;top:1430.49px;font-size:13.40px;line-height:23.02px;color:#000066;">Druckaufbau im Kühlsystem</div>
<div class="t  b" style="top:1437.76px;font-size:13.40px;line-height:16.08px;color:#000;left:2560.80px;width:34.80px;text-align:center;text-shadow:0.9px 0 currentColor,-0.9px 0 currentColor,0 0.9px currentColor,0 -0.9px currentColor;">6</div>
<div class="t b" style="left:2601.60px;top:1430.49px;font-size:13.40px;line-height:23.02px;color:#000;">BEEINTRÄCHTIGG. DER<br>INTERNEN FUNKTION:<br><br>Durchflußmenge zu groß.</div>
<div class="t b" style="left:2873.60px;top:1430.49px;font-size:13.40px;line-height:23.02px;color:#720000;">Berechnungsfehler</div>
<div class="t b" style="left:3144.40px;top:1430.49px;font-size:13.40px;line-height:23.02px;color:#000;">keine</div>
<div class="t  b" style="top:1437.76px;font-size:13.40px;line-height:16.08px;color:#000;left:3410.00px;width:35.20px;text-align:center;text-shadow:0.9px 0 currentColor,-0.9px 0 currentColor,0 0.9px currentColor,0 -0.9px currentColor;">3</div>
<div class="t b" style="left:3451.20px;top:1430.49px;font-size:13.40px;line-height:23.02px;color:#000;">Prüfstandsergebnisse</div>
<div class="t  b" style="top:1437.76px;font-size:13.40px;line-height:16.08px;color:#000;left:3717.60px;width:35.20px;text-align:center;text-shadow:0.9px 0 currentColor,-0.9px 0 currentColor,0 0.9px currentColor,0 -0.9px currentColor;">3</div>
<div class="t  b" style="top:1436.96px;font-size:13.40px;line-height:16.08px;color:#000;left:3752.80px;width:56.40px;text-align:center;text-shadow:0.9px 0 currentColor,-0.9px 0 currentColor,0 0.9px currentColor,0 -0.9px currentColor;">54</div>
<div style="left:3765.80px;top:1455.40px;width:28.00px;height:24.80px;background:#3fd63f;"></div>
<div class="t  b" style="top:1462.36px;font-size:10.40px;line-height:12.48px;color:#108010;left:3767.80px;width:24.00px;text-align:center;">L</div>
<div class="t b" style="left:3875.60px;top:1430.49px;font-size:13.40px;line-height:23.02px;color:#000;">Einsatz softwaregestützter<br>Berechnungssysteme<br><span style="font-weight:normal;color:#3c3c3c">(VM)</span></div>
<div class="t b" style="left:4169.20px;top:1430.49px;font-size:13.40px;line-height:23.02px;color:#000;">K. Mayer / R&amp;D<br><span style="font-weight:normal;letter-spacing:2.80px;color:#222">Termin:</span> 15.05.2019</div>
<div class="t b" style="left:4440.40px;top:1430.49px;font-size:13.40px;line-height:23.02px;color:#000;"></div>
<div class="t  b" style="top:1666.56px;font-size:13.40px;line-height:16.08px;color:#000;left:602.00px;width:53.20px;text-align:center;text-shadow:0.9px 0 currentColor,-0.9px 0 currentColor,0 0.9px currentColor,0 -0.9px currentColor;">5</div>
<div class="t b" style="left:663.60px;top:1658.89px;font-size:13.40px;line-height:23.02px;color:#666666;text-shadow:0.2px 0 currentColor,-0.2px 0 currentColor;">Kühlsystem</div>
<div class="t b" style="left:935.60px;top:1658.89px;font-size:13.40px;line-height:23.02px;color:#666666;text-shadow:0.2px 0 currentColor,-0.2px 0 currentColor;">Wasserpumpe :<br><br><br>Durchflußmenge<br>7 Ltr./min<br>+/-0,1 Ltr./min</div>
<div class="t b" style="left:1207.60px;top:1658.89px;font-size:13.40px;line-height:23.02px;color:#666666;text-shadow:0.2px 0 currentColor,-0.2px 0 currentColor;">Berechnungen zum<br>Transmissionsverhältnis,<br>Check von Umwelteinflüssen<br><br>T/U Faktor: Methode</div>
<div class="t b" style="left:1479.60px;top:1658.89px;font-size:13.40px;line-height:23.02px;color:#666666;text-shadow:0.2px 0 currentColor,-0.2px 0 currentColor;">Hauptfunktion / Soll:<br>Wasser umwälzen<br>==&gt; Motorkühlung sicherstellen<br><br>(max. Motortemperatur gem.<br>Datenblatt 20-05)</div>
<div class="t b" style="left:1751.60px;top:1658.89px;font-size:13.40px;line-height:23.02px;color:#666666;text-shadow:0.2px 0 currentColor,-0.2px 0 currentColor;">Durchflußmenge regulieren</div>
<div class="t b" style="left:2023.60px;top:1658.89px;font-size:13.40px;line-height:23.02px;color:#666666;text-shadow:0.2px 0 currentColor,-0.2px 0 currentColor;">Übersetzungsverhältnis<br>Zahnwelle/Riemen<br><br>Festlegung der Auslegungs-<br>daten für Anford./Spezifikation<br><br>Antriebsart elektrisch,<br>Lebensdauer &gt;140 Tkm,<br>Volumenstrom 100 l/min.bei<br>0,6 bar, 200W</div>
<div class="t b" style="left:2295.60px;top:1658.89px;font-size:13.40px;line-height:23.02px;color:#666666;text-shadow:0.2px 0 currentColor,-0.2px 0 currentColor;">Druckaufbau im Kühlsystem</div>
<div class="t  b" style="top:1666.16px;font-size:13.40px;line-height:16.08px;color:#000;left:2560.80px;width:34.80px;text-align:center;text-shadow:0.9px 0 currentColor,-0.9px 0 currentColor,0 0.9px currentColor,0 -0.9px currentColor;">6</div>
<div class="t b" style="left:2601.60px;top:1658.89px;font-size:13.40px;line-height:23.02px;color:#666666;text-shadow:0.2px 0 currentColor,-0.2px 0 currentColor;">BEEINTRÄCHTIGG. DER<br>INTERNEN FUNKTION:<br><br>Durchflußmenge zu groß.</div>
<div class="t b" style="left:2873.60px;top:1658.89px;font-size:13.40px;line-height:23.02px;color:#720000;">Viskositätseigenschaften<br>im Temperaturverlauf nicht<br>beachtet</div>
<div class="t b" style="left:3144.40px;top:1658.89px;font-size:13.40px;line-height:23.02px;color:#000;">Checklisten</div>
<div class="t  b" style="top:1666.16px;font-size:13.40px;line-height:16.08px;color:#000;left:3410.00px;width:35.20px;text-align:center;text-shadow:0.9px 0 currentColor,-0.9px 0 currentColor,0 0.9px currentColor,0 -0.9px currentColor;">3</div>
<div class="t b" style="left:3451.20px;top:1658.89px;font-size:13.40px;line-height:23.02px;color:#000;">keine</div>
<div class="t  b" style="top:1666.16px;font-size:13.40px;line-height:16.08px;color:#000;left:3717.60px;width:35.20px;text-align:center;text-shadow:0.9px 0 currentColor,-0.9px 0 currentColor,0 0.9px currentColor,0 -0.9px currentColor;">9</div>
<div class="t  b" style="top:1665.36px;font-size:13.40px;line-height:16.08px;color:#000;left:3752.80px;width:56.40px;text-align:center;text-shadow:0.9px 0 currentColor,-0.9px 0 currentColor,0 0.9px currentColor,0 -0.9px currentColor;">162</div>
<div style="left:3765.80px;top:1683.80px;width:28.00px;height:24.80px;background:#d42a20;"></div>
<div class="t  b" style="top:1690.76px;font-size:10.40px;line-height:12.48px;color:#a01010;left:3767.80px;width:24.00px;text-align:center;">H</div>
<div class="t b" style="left:3875.60px;top:1658.89px;font-size:13.40px;line-height:23.02px;color:#000;">Einführung Richtlinie<br>RL 4712-0 für Material-<br>auswahl<br><span style="font-weight:normal;color:#3c3c3c">(VM)</span></div>
<div class="t b" style="left:4169.20px;top:1658.89px;font-size:13.40px;line-height:23.02px;color:#000;">Lisa Müller<br><span style="font-weight:normal;letter-spacing:2.80px;color:#222">Termin:</span> 31.01.2020</div>
<div class="t b" style="left:4440.40px;top:1658.89px;font-size:13.40px;line-height:23.02px;color:#000;"></div>
<div class="t  b" style="top:1894.56px;font-size:13.40px;line-height:16.08px;color:#000;left:602.00px;width:53.20px;text-align:center;text-shadow:0.9px 0 currentColor,-0.9px 0 currentColor,0 0.9px currentColor,0 -0.9px currentColor;">6</div>
<div class="t b" style="left:663.60px;top:1886.89px;font-size:13.40px;line-height:23.02px;color:#000066;">Kühlsystem</div>
<div class="t b" style="left:935.60px;top:1886.89px;font-size:13.40px;line-height:23.02px;color:#000;">Wasserpumpe :<br><br><br>.DesignKonzept<br>Funktionserfüllung</div>
<div class="t b" style="left:1207.60px;top:1886.89px;font-size:13.40px;line-height:23.02px;color:#720000;">Festigkeitsberechnung,<br>Materialstudien<br><br>T/U Faktor: Mensch</div>
<div class="t b" style="left:1479.60px;top:1886.89px;font-size:13.40px;line-height:23.02px;color:#000066;">Hauptfunktion / Soll:<br>Wasser umwälzen<br>==&gt; Motorkühlung sicherstellen<br><br>(max. Motortemperatur gem.<br>Datenblatt 20-05)</div>
<div class="t b" style="left:1751.60px;top:1886.89px;font-size:13.40px;line-height:23.02px;color:#000;">Flügelrad drehen</div>
<div class="t b" style="left:2023.60px;top:1886.89px;font-size:13.40px;line-height:23.02px;color:#720000;">Formschluß - Aufschrumpfen<br>auf Welle/Achse<br><br>Festlegung der Auslegungs-<br>daten für Anford./Spezifikation<br><br>Antriebsart elektrisch,<br>Lebensdauer &gt;140 Tkm,<br>Volumenstrom 100 l/min.bei<br>0,6 bar, 200W</div>
<div class="t b" style="left:2295.60px;top:1886.89px;font-size:13.40px;line-height:23.02px;color:#000066;">Hohe Ausschußquoten in<br>der Produktion, Probleme<br>mit Paßsitz bei extremen<br>Temperaturen (unterschied-<br>liches Dehnungsverhalten)</div>
<div class="t  b" style="top:1894.16px;font-size:13.40px;line-height:16.08px;color:#000;left:2560.80px;width:34.80px;text-align:center;text-shadow:0.9px 0 currentColor,-0.9px 0 currentColor,0 0.9px currentColor,0 -0.9px currentColor;">8</div>
<div class="t b" style="left:2601.60px;top:1886.89px;font-size:13.40px;line-height:23.02px;color:#000;">KONZEPTIONSMANGEL:<br>Aufschrumpfen als Form-<br>schlußverfahren ungeeignet,<br>starke Abhängigkeiten von<br>Materialeigenschaften</div>
<div class="t b" style="left:2873.60px;top:1886.89px;font-size:13.40px;line-height:23.02px;color:#720000;">Mangelnde Prüfung der<br>Dehnungskoeffizienten im<br>Temperaturverlauf. Falsche<br>Umgebungsparameter<br>zugrundegelegt.</div>
<div class="t b" style="left:3144.40px;top:1886.89px;font-size:13.40px;line-height:23.02px;color:#000;">Einsatz Materialtabellen<br>Ausgaben 04/C/2018</div>
<div class="t  b" style="top:1894.16px;font-size:13.40px;line-height:16.08px;color:#000;left:3410.00px;width:35.20px;text-align:center;text-shadow:0.9px 0 currentColor,-0.9px 0 currentColor,0 0.9px currentColor,0 -0.9px currentColor;">5</div>
<div class="t b" style="left:3451.20px;top:1886.89px;font-size:13.40px;line-height:23.02px;color:#000;">Rückmeldungen aus<br>Produktion und Service</div>
<div class="t  b" style="top:1894.16px;font-size:13.40px;line-height:16.08px;color:#000;left:3717.60px;width:35.20px;text-align:center;text-shadow:0.9px 0 currentColor,-0.9px 0 currentColor,0 0.9px currentColor,0 -0.9px currentColor;">3</div>
<div class="t  b" style="top:1893.36px;font-size:13.40px;line-height:16.08px;color:#000;left:3752.80px;width:56.40px;text-align:center;text-shadow:0.9px 0 currentColor,-0.9px 0 currentColor,0 0.9px currentColor,0 -0.9px currentColor;">120</div>
<div style="left:3765.80px;top:1911.80px;width:28.00px;height:24.80px;background:#d42a20;"></div>
<div class="t  b" style="top:1918.76px;font-size:10.40px;line-height:12.48px;color:#a01010;left:3767.80px;width:24.00px;text-align:center;">H</div>
<div class="t b" style="left:3875.60px;top:1886.89px;font-size:13.40px;line-height:23.02px;color:#000;">Umstellung Unterlagen-<br>bzgl.Entwicklungskonzept<br><span style="font-weight:normal;color:#3c3c3c">(VM)</span></div>
<div class="t b" style="left:4169.20px;top:1886.89px;font-size:13.40px;line-height:23.02px;color:#000;">H. Hofmeister<br><span style="font-weight:normal;letter-spacing:2.80px;color:#222">Termin:</span> 30.06.2019</div>
<div class="t b" style="left:4440.40px;top:1886.89px;font-size:13.40px;line-height:23.02px;color:#000;"></div>
<div class="t  b" style="top:2127.36px;font-size:13.40px;line-height:16.08px;color:#000;left:602.00px;width:53.20px;text-align:center;text-shadow:0.9px 0 currentColor,-0.9px 0 currentColor,0 0.9px currentColor,0 -0.9px currentColor;">7</div>
<div class="t b" style="left:663.60px;top:2119.69px;font-size:13.40px;line-height:23.02px;color:#000066;">Kühlsystem</div>
<div class="t b" style="left:935.60px;top:2119.69px;font-size:13.40px;line-height:23.02px;color:#000;">Wasserpumpe :<br><br><br>Drehmoment<br>4 Nm<br>+/-0,1 Nm</div>
<div class="t b" style="left:1207.60px;top:2119.69px;font-size:13.40px;line-height:23.02px;color:#720000;">Festigkeitsberechnung,<br>Materialstudien<br><br>T/U Faktor: Methode</div>
<div class="t b" style="left:1479.60px;top:2119.69px;font-size:13.40px;line-height:23.02px;color:#000066;">Hauptfunktion / Soll:<br>Wasser umwälzen<br>==&gt; Motorkühlung sicherstellen<br><br>(max. Motortemperatur gem.<br>Datenblatt 20-05)</div>
<div class="t b" style="left:1751.60px;top:2119.69px;font-size:13.40px;line-height:23.02px;color:#000;">Flügelrad drehen</div>
<div class="t b" style="left:2023.60px;top:2119.69px;font-size:13.40px;line-height:23.02px;color:#720000;">Formschluß - Aufschrumpfen<br>auf Welle/Achse<br><br>Festlegung der Auslegungs-<br>daten für Anford./Spezifikation<br><br>Antriebsart elektrisch,<br>Lebensdauer &gt;140 Tkm,<br>Volumenstrom 100 l/min.bei<br>0,6 bar, 200W</div>
<div class="t b" style="left:2295.60px;top:2119.69px;font-size:13.40px;line-height:23.02px;color:#000066;">Schwankungen in der<br>Kühlleistung</div>
<div class="t  b" style="top:2126.96px;font-size:13.40px;line-height:16.08px;color:#000;left:2560.80px;width:34.80px;text-align:center;text-shadow:0.9px 0 currentColor,-0.9px 0 currentColor,0 0.9px currentColor,0 -0.9px currentColor;">6</div>
<div class="t b" style="left:2601.60px;top:2119.69px;font-size:13.40px;line-height:23.02px;color:#000;">INADÄQUATE<br>SPEZIFIKATION:<br><br>Drehmoment-Spezifikation<br>kann im Dauerbetrieb nicht<br>im Toleranzbereich gehalten<br>werden</div>
<div class="t b" style="left:2873.60px;top:2119.69px;font-size:13.40px;line-height:23.02px;color:#720000;">Schlupf-Phänomene in<br>Drehzahlvorgabe nicht<br>berücksichtigt</div>
<div class="t b" style="left:3144.40px;top:2119.69px;font-size:13.40px;line-height:23.02px;color:#000;">keine</div>
<div class="t  b" style="top:2126.96px;font-size:13.40px;line-height:16.08px;color:#000;left:3410.00px;width:35.20px;text-align:center;text-shadow:0.9px 0 currentColor,-0.9px 0 currentColor,0 0.9px currentColor,0 -0.9px currentColor;">3</div>
<div class="t b" style="left:3451.20px;top:2119.69px;font-size:13.40px;line-height:23.02px;color:#000;">Rückmeldungen aus<br>Dauerprüfstand und<br>Kundenservice</div>
<div class="t  b" style="top:2126.96px;font-size:13.40px;line-height:16.08px;color:#000;left:3717.60px;width:35.20px;text-align:center;text-shadow:0.9px 0 currentColor,-0.9px 0 currentColor,0 0.9px currentColor,0 -0.9px currentColor;">3</div>
<div class="t  b" style="top:2126.16px;font-size:13.40px;line-height:16.08px;color:#000;left:3752.80px;width:56.40px;text-align:center;text-shadow:0.9px 0 currentColor,-0.9px 0 currentColor,0 0.9px currentColor,0 -0.9px currentColor;">36</div>
<div style="left:3765.80px;top:2144.60px;width:28.00px;height:24.80px;background:#3fd63f;"></div>
<div class="t  b" style="top:2151.56px;font-size:10.40px;line-height:12.48px;color:#108010;left:3767.80px;width:24.00px;text-align:center;">L</div>
<div class="t  b" style="top:2126.96px;font-size:13.40px;line-height:16.08px;color:#000;left:3809.20px;width:60.40px;text-align:center;text-shadow:0.9px 0 currentColor,-0.9px 0 currentColor,0 0.9px currentColor,0 -0.9px currentColor;">8</div>
<div class="t b" style="left:3875.60px;top:2119.69px;font-size:13.40px;line-height:23.02px;color:#000;">keine</div>
<div class="t b" style="left:4169.20px;top:2119.69px;font-size:13.40px;line-height:23.02px;color:#000;"></div>
<div class="t b" style="left:4440.40px;top:2119.69px;font-size:13.40px;line-height:23.02px;color:#000;"></div>
<div class="t  b" style="top:2354.96px;font-size:13.40px;line-height:16.08px;color:#000;left:602.00px;width:53.20px;text-align:center;text-shadow:0.9px 0 currentColor,-0.9px 0 currentColor,0 0.9px currentColor,0 -0.9px currentColor;">8</div>
<div class="t b" style="left:663.60px;top:2347.29px;font-size:13.40px;line-height:23.02px;color:#000066;">Kühlsystem</div>
<div class="t b" style="left:935.60px;top:2347.29px;font-size:13.40px;line-height:23.02px;color:#000;">Wasserpumpe :<br><br><br>Drehzahl<br>400 U/min.<br>+/- 5 U/min.</div>
<div class="t b" style="left:1207.60px;top:2347.29px;font-size:13.40px;line-height:23.02px;color:#720000;">Festigkeitsberechnung,<br>Materialstudien<br><br>T/U Faktor: Methode</div>
<div class="t b" style="left:1479.60px;top:2347.29px;font-size:13.40px;line-height:23.02px;color:#000066;">Hauptfunktion / Soll:<br>Wasser umwälzen<br>==&gt; Motorkühlung sicherstellen<br><br>(max. Motortemperatur gem.<br>Datenblatt 20-05)</div>
<div class="t b" style="left:1751.60px;top:2347.29px;font-size:13.40px;line-height:23.02px;color:#000;">Flügelrad drehen</div>
<div class="t b" style="left:2023.60px;top:2347.29px;font-size:13.40px;line-height:23.02px;color:#720000;">Formschluß - Aufschrumpfen<br>auf Welle/Achse<br><br>Festlegung der Auslegungs-<br>daten für Anford./Spezifikation<br><br>Antriebsart elektrisch,<br>Lebensdauer &gt;140 Tkm,<br>Volumenstrom 100 l/min.bei<br>0,6 bar, 200W</div>
<div class="t b" style="left:2295.60px;top:2347.29px;font-size:13.40px;line-height:23.02px;color:#000066;">Schwankungen in der<br>Kühlleistung</div>
<div class="t  b" style="top:2354.56px;font-size:13.40px;line-height:16.08px;color:#000;left:2560.80px;width:34.80px;text-align:center;text-shadow:0.9px 0 currentColor,-0.9px 0 currentColor,0 0.9px currentColor,0 -0.9px currentColor;">6</div>
<div class="t b" style="left:2601.60px;top:2347.29px;font-size:13.40px;line-height:23.02px;color:#000;">INADÄQUATE<br>SPEZIFIKATION:<br><br>Drehzahl-Spezifikation kann<br>im Dauerbetrieb nicht im<br>Toleranzbereich gehalten<br>werden</div>
<div class="t b" style="left:2873.60px;top:2347.29px;font-size:13.40px;line-height:23.02px;color:#720000;">Schlupf-Phänomene in<br>Drehzahlvorgabe nicht<br>berücksichtigt</div>
<div class="t b" style="left:3144.40px;top:2347.29px;font-size:13.40px;line-height:23.02px;color:#000;">keine</div>
<div class="t  b" style="top:2354.56px;font-size:13.40px;line-height:16.08px;color:#000;left:3410.00px;width:35.20px;text-align:center;text-shadow:0.9px 0 currentColor,-0.9px 0 currentColor,0 0.9px currentColor,0 -0.9px currentColor;">3</div>
<div class="t b" style="left:3451.20px;top:2347.29px;font-size:13.40px;line-height:23.02px;color:#000;">Rückmeldungen aus<br>Dauerprüfstand und<br>Kundenservice</div>
<div class="t  b" style="top:2354.56px;font-size:13.40px;line-height:16.08px;color:#000;left:3717.60px;width:35.20px;text-align:center;text-shadow:0.9px 0 currentColor,-0.9px 0 currentColor,0 0.9px currentColor,0 -0.9px currentColor;">3</div>
<div class="t  b" style="top:2353.76px;font-size:13.40px;line-height:16.08px;color:#000;left:3752.80px;width:56.40px;text-align:center;text-shadow:0.9px 0 currentColor,-0.9px 0 currentColor,0 0.9px currentColor,0 -0.9px currentColor;">36</div>
<div style="left:3765.80px;top:2372.20px;width:28.00px;height:24.80px;background:#3fd63f;"></div>
<div class="t  b" style="top:2379.16px;font-size:10.40px;line-height:12.48px;color:#108010;left:3767.80px;width:24.00px;text-align:center;">L</div>
<div class="t b" style="left:3875.60px;top:2347.29px;font-size:13.40px;line-height:23.02px;color:#000;">keine</div>
<div class="t b" style="left:4169.20px;top:2347.29px;font-size:13.40px;line-height:23.02px;color:#000;"></div>
<div class="t b" style="left:4440.40px;top:2347.29px;font-size:13.40px;line-height:23.02px;color:#000;"></div>
<div class="t  b" style="top:2583.36px;font-size:13.40px;line-height:16.08px;color:#000;left:602.00px;width:53.20px;text-align:center;text-shadow:0.9px 0 currentColor,-0.9px 0 currentColor,0 0.9px currentColor,0 -0.9px currentColor;">9</div>
<div class="t b" style="left:663.60px;top:2575.69px;font-size:13.40px;line-height:23.02px;color:#000066;">Kühlsystem</div>
<div class="t b" style="left:935.60px;top:2575.69px;font-size:13.40px;line-height:23.02px;color:#000;">Wasserpumpe :<br><br><br>.DesignKonzept<br>Funktionserfüllung</div>
<div class="t b" style="left:1207.60px;top:2575.69px;font-size:13.40px;line-height:23.02px;color:#720000;">Testläufe, Verschleißdaten,<br>Prüfung Materialalterung,<br>Lunkerneigung Material<br><br>T/U Faktor: noch nicht definiert</div>
<div class="t b" style="left:1479.60px;top:2575.69px;font-size:13.40px;line-height:23.02px;color:#000066;">Hauptfunktion / Soll:<br>Wasser umwälzen<br>==&gt; Motorkühlung sicherstellen<br><br>(max. Motortemperatur gem.<br>Datenblatt 20-05)</div>
<div class="t b" style="left:1751.60px;top:2575.69px;font-size:13.40px;line-height:23.02px;color:#000;">Wasserraum abdichten</div>
<div class="t b" style="left:2023.60px;top:2575.69px;font-size:13.40px;line-height:23.02px;color:#720000;">Gummidichtungen am Flansch,<br>O-Ringe<br><br>Festlegung der Auslegungs-<br>daten für Anford./Spezifikation<br><br>Antriebsart elektrisch,<br>Lebensdauer &gt;140 Tkm,<br>Volumenstrom 100 l/min.bei<br>0,6 bar, 200W</div>
<div class="t b" style="left:2295.60px;top:2575.69px;font-size:13.40px;line-height:23.02px;color:#000066;">Wasserverlust, Korrosion</div>
<div class="t  b" style="top:2582.96px;font-size:13.40px;line-height:16.08px;color:#000;left:2560.80px;width:34.80px;text-align:center;text-shadow:0.9px 0 currentColor,-0.9px 0 currentColor,0 0.9px currentColor,0 -0.9px currentColor;">8</div>
<div class="t b" style="left:2601.60px;top:2575.69px;font-size:13.40px;line-height:23.02px;color:#000;">KONZEPTIONSMANGEL:<br><br>Dichtungskonzeption für<br>Druckverhältnisse unzu-<br>reichend</div>
<div class="t b" style="left:2873.60px;top:2575.69px;font-size:13.40px;line-height:23.02px;color:#720000;">Veraltete Materialprüfungs-<br>verfahren</div>
<div class="t b" style="left:3144.40px;top:2575.69px;font-size:13.40px;line-height:23.02px;color:#000;">Betriebsanweisung 4712/B</div>
<div class="t  b" style="top:2582.96px;font-size:13.40px;line-height:16.08px;color:#000;left:3410.00px;width:35.20px;text-align:center;text-shadow:0.9px 0 currentColor,-0.9px 0 currentColor,0 0.9px currentColor,0 -0.9px currentColor;">5</div>
<div class="t b" style="left:3451.20px;top:2575.69px;font-size:13.40px;line-height:23.02px;color:#000;">Dichtheitsprüfung auf<br>Prüfstand 2000-C</div>
<div class="t  b" style="top:2582.96px;font-size:13.40px;line-height:16.08px;color:#000;left:3717.60px;width:35.20px;text-align:center;text-shadow:0.9px 0 currentColor,-0.9px 0 currentColor,0 0.9px currentColor,0 -0.9px currentColor;">3</div>
<div class="t  b" style="top:2582.16px;font-size:13.40px;line-height:16.08px;color:#000;left:3752.80px;width:56.40px;text-align:center;text-shadow:0.9px 0 currentColor,-0.9px 0 currentColor,0 0.9px currentColor,0 -0.9px currentColor;">108</div>
<div style="left:3765.80px;top:2600.60px;width:28.00px;height:24.80px;background:#d42a20;"></div>
<div class="t  b" style="top:2607.56px;font-size:10.40px;line-height:12.48px;color:#a01010;left:3767.80px;width:24.00px;text-align:center;">H</div>
<div class="t b" style="left:3875.60px;top:2575.69px;font-size:13.40px;line-height:23.02px;color:#000;">Umstellung der Konstruktion<br>auf neue Dicht-Technologie,<br>Einsatz neuer Materialien<br><span style="font-weight:normal;color:#3c3c3c">(VM)</span></div>
<div class="t b" style="left:4169.20px;top:2575.69px;font-size:13.40px;line-height:23.02px;color:#000;">S. Schulze<br><span style="font-weight:normal;letter-spacing:2.80px;color:#222">Termin:</span> 30.07.2019</div>
<div class="t b" style="left:4440.40px;top:2575.69px;font-size:13.40px;line-height:23.02px;color:#000;"></div>
<div class="t  b" style="top:2834.41px;font-size:13.32px;line-height:15.98px;color:#000;left:605.20px;">&lt;A&gt; Wahrscheinlichkeit des Auftretens</div>
<div class="t  b" style="top:2862.41px;font-size:13.32px;line-height:15.98px;color:#000;left:605.20px;">  1 unwahrscheinlich</div>
<div class="t  b" style="top:2890.41px;font-size:13.32px;line-height:15.98px;color:#000;left:605.20px;">10 hoch</div>
<div class="t  b" style="top:2834.41px;font-size:13.32px;line-height:15.98px;color:#000;left:1026.80px;">&lt;B&gt; Bedeutung der Fehlerfolge (Auswirkung)</div>
<div class="t  b" style="top:2862.41px;font-size:13.32px;line-height:15.98px;color:#000;left:1026.80px;">  1 kaum wahrnehmbar</div>
<div class="t  b" style="top:2890.41px;font-size:13.32px;line-height:15.98px;color:#000;left:1026.80px;">10 schwerwiegend</div>
<div class="t  b" style="top:2834.41px;font-size:13.32px;line-height:15.98px;color:#000;left:1499.60px;">&lt;E&gt; Entdeckungswahrscheinlichkeit</div>
<div class="t  b" style="top:2862.41px;font-size:13.32px;line-height:15.98px;color:#000;left:1499.60px;">  1 hoch</div>
<div class="t  b" style="top:2890.41px;font-size:13.32px;line-height:15.98px;color:#000;left:1499.60px;">10 unwahrscheinlich</div>
<div class="t  b" style="top:2834.41px;font-size:13.32px;line-height:15.98px;color:#000;left:1884.00px;">&lt;AP&gt; Aufgabenpriorität  (High, Medium, Low)</div>
<div class="t  b" style="top:2870.81px;font-size:13.32px;line-height:15.98px;color:#000;left:1884.00px;">&lt;Fkt.&gt; Filterkriterium (Wirkstoff)</div>
<div style="left:600.80px;top:972.00px;width:4285.60px;height:8.00px;background:#c8c8c8"></div>
<div style="left:600.80px;top:1200.00px;width:4285.60px;height:8.00px;background:#c8c8c8"></div>
<div style="left:600.80px;top:1431.50px;width:4285.60px;height:5.00px;background:#c8c8c8"></div>
<div style="left:600.80px;top:1659.50px;width:4285.60px;height:5.00px;background:#c8c8c8"></div>
<div style="left:600.80px;top:1888.00px;width:4285.60px;height:8.00px;background:#c8c8c8"></div>
<div style="left:600.80px;top:2116.00px;width:4285.60px;height:8.00px;background:#c8c8c8"></div>
<div style="left:600.80px;top:2344.00px;width:4285.60px;height:8.00px;background:#c8c8c8"></div>
<div style="left:600.80px;top:2575.50px;width:4285.60px;height:5.00px;background:#c8c8c8"></div>
</div>
</body></html>
